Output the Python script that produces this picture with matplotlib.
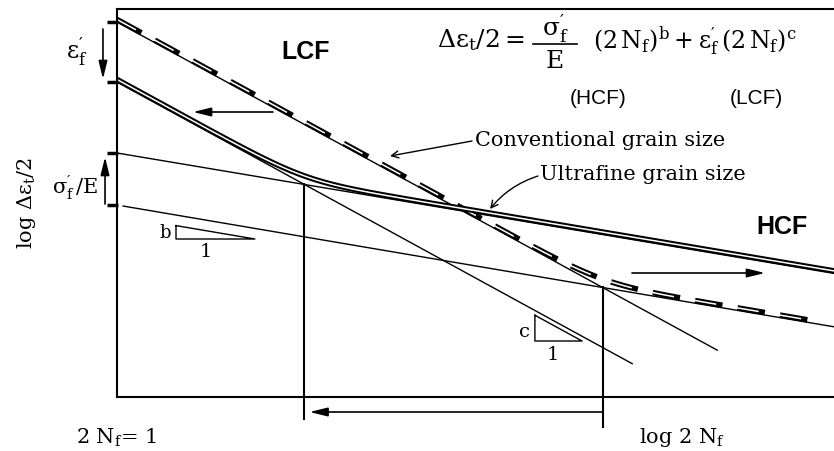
import numpy as np
import matplotlib
matplotlib.use("Agg")
import matplotlib.pyplot as plt
from matplotlib.transforms import offset_copy

plt.rcParams['mathtext.fontset'] = 'dejavuserif'
plt.rcParams['mathtext.default'] = 'regular'
plt.rcParams['lines.scale_dashes'] = False

# schematic strain-life parameters (log10 units)
# index 0 = conventional grain size, 1 = ultrafine grain size
materials = ["Conventional grain size", "Ultrafine grain size"]
log_eps_f = [0.0, -3.0]        # log eps_f'   (LCF intercept)
c_exp = [-2.8, -2.8]           # plastic exponent c
log_sig_E = [-9.15, -6.55]     # log sigma_f'/E  (HCF intercept)
b_exp = [-0.87, -0.86]         # elastic exponent b
plastic_end = [5.86, 5.03]
elastic_start = [0.06, 0.0]
elastic_end = [7.0, 7.0]
total_end = [6.87, 7.0]
drop_to = [-20.25, -19.85]

X_MAX = 7.0
Y_LIM = (-18.75, 0.65)
W, H = 834, 452


def plastic(i, x):
    return log_eps_f[i] + c_exp[i] * x


def elastic(i, x):
    return log_sig_E[i] + b_exp[i] * x


def total(i, x):
    return np.log10(10 ** elastic(i, x) + 10 ** plastic(i, x))


def transition(i):
    return (log_sig_E[i] - log_eps_f[i]) / (c_exp[i] - b_exp[i])


def fp(x, y):
    # pixel position (from top-left) -> figure fraction
    return x / W, 1 - y / H


fig = plt.figure(figsize=(W / 100, H / 100), dpi=100)
ax = fig.add_axes([117 / W, 54 / H, 717 / W, 388 / H])
ax.set_xlim(0, X_MAX)
ax.set_ylim(*Y_LIM)
ax.set_xticks([])
ax.set_yticks([])
ax.spines['right'].set_visible(False)
for s in ['left', 'top', 'bottom']:
    ax.spines[s].set_linewidth(1.5)

# thin straight lines: plastic (LCF) and elastic (HCF) parts
for i in range(2):
    xp = np.linspace(0, plastic_end[i], 50)
    ax.plot(xp, plastic(i, xp), color='k', lw=1.0)
    xe = np.linspace(elastic_start[i], elastic_end[i], 50)
    ax.plot(xe, elastic(i, xe), color='k', lw=1.0)

# total curves, drawn a little above the straight lines
up = offset_copy(ax.transData, fig=fig, x=0, y=2.5, units='dots')
xt = np.linspace(0, total_end[0], 600)
ax.plot(xt, total(0, xt), color='k', lw=4.0, ls=(0, (20, 11)),
        transform=up, dash_capstyle='butt')
ax.plot(xt, total(0, xt), color='white', lw=1.1, ls=(1.5, (17, 14)),
        transform=up, dash_capstyle='butt')
xt = np.linspace(0, total_end[1], 600)
ax.plot(xt, total(1, xt), color='k', lw=4.0, transform=up)
ax.plot(xt, total(1, xt), color='white', lw=1.1, transform=up)

# transition lives
for i in range(2):
    xs = transition(i)
    ax.plot([xs, xs], [plastic(i, xs), drop_to[i]], color='k', lw=1.5, clip_on=False)
arrow = dict(arrowstyle='-|>,head_length=0.9,head_width=0.22', color='k', lw=1.2,
             shrinkA=0, shrinkB=0, mutation_scale=12)
ax.annotate('', xy=(transition(1) + 0.05, -19.5), xytext=(transition(0), -19.5),
            arrowprops=arrow, annotation_clip=False)

# intercept marks on the strain axis
for v in log_eps_f + log_sig_E:
    ax.plot([-0.1, 0.01], [v, v], color='k', lw=2.5, clip_on=False,
            solid_capstyle='butt')

ax.annotate('', xy=(-0.137, log_eps_f[1] + 0.15), xytext=(-0.137, log_eps_f[0] - 0.35),
            arrowprops=arrow, annotation_clip=False)
ax.annotate('', xy=(-0.117, log_sig_E[1] - 0.2), xytext=(-0.117, log_sig_E[0] + 0.05),
            arrowprops=arrow, annotation_clip=False)

# shift arrows
ax.annotate('', xy=fp(193, 113), xytext=fp(273, 113), xycoords='figure fraction',
            arrowprops=arrow)
ax.annotate('', xy=fp(765, 274), xytext=fp(632, 274), xycoords='figure fraction',
            arrowprops=arrow)

# slope triangles
tri = [(0.576, -10.85, 0.77, b_exp[0]), (4.08, -15.95, 0.46, c_exp[1])]
for x0, y0, L, slope in tri:
    h = -slope * L
    ax.plot([x0, x0, x0 + L, x0], [y0 + h, y0, y0, y0 + h], color='k', lw=1.0)

serif = 'DejaVu Serif'
sans = 'Liberation Sans'
fig.text(*fp(165, 233), 'b', family=serif, fontsize=13, ha='center', va='center')
fig.text(*fp(206, 252), '1', family=serif, fontsize=14, ha='center', va='center')
fig.text(*fp(524, 332), 'c', family=serif, fontsize=14, ha='center', va='center')
fig.text(*fp(553, 355), '1', family=serif, fontsize=14, ha='center', va='center')

fig.text(*fp(306, 52), 'LCF', family=sans, weight='bold', fontsize=18,
         ha='center', va='center')
fig.text(*fp(782, 227), 'HCF', family=sans, weight='bold', fontsize=18,
         ha='center', va='center')

# equation
fig.text(*fp(437, 40), r'$\Delta\varepsilon_t/2 =$', family=serif, fontsize=18,
         ha='left', va='center')
fig.text(*fp(555, 29), r"$\sigma_f'$", family=serif, fontsize=18, ha='center', va='center')
fig.add_artist(plt.Line2D([533 / W, 577 / W], [1 - 45 / H, 1 - 45 / H], color='k', lw=1.2))
fig.text(*fp(555, 61), 'E', family=serif, fontsize=18, ha='center', va='center')
fig.text(*fp(593, 40), r"$(2\,N_f)^b + \varepsilon_f'\,(2\,N_f)^c$", family=serif,
         fontsize=17, ha='left', va='center')
fig.text(*fp(598, 99), '(HCF)', family=sans, fontsize=15, ha='center', va='center')
fig.text(*fp(756, 99), '(LCF)', family=sans, fontsize=15, ha='center', va='center')

# grain size labels
fig.text(*fp(475, 141), materials[0], family=serif, fontsize=15, ha='left', va='center')
fig.text(*fp(540, 174), materials[1], family=serif, fontsize=15, ha='left', va='center')
ax.annotate('', xy=fp(390, 157), xytext=fp(472, 142), xycoords='figure fraction',
            arrowprops=dict(arrowstyle='->,head_length=0.5,head_width=0.25', color='k',
                            lw=1.0, shrinkA=0, shrinkB=0))
ax.annotate('', xy=fp(490, 210), xytext=fp(538, 177), xycoords='figure fraction',
            arrowprops=dict(arrowstyle='->,head_length=0.5,head_width=0.25', color='k',
                            lw=1.0, shrinkA=0, shrinkB=0, connectionstyle='arc3,rad=0.15'))

# axis labels
fig.text(*fp(27, 203), r'log $\Delta\varepsilon_t/2$', family=serif, fontsize=15,
         rotation=90, ha='center', va='center')
fig.text(*fp(77, 52), r"$\varepsilon_f'$", family=serif, fontsize=17, ha='center', va='center')
fig.text(*fp(75, 188), r"$\sigma_f'\,/E$", family=serif, fontsize=15, ha='center', va='center')
fig.text(*fp(116, 438), r'2 $N_f$= 1', family=serif, fontsize=15, ha='center', va='center')
fig.text(*fp(682, 438), r'log 2 $N_f$', family=serif, fontsize=15, ha='center', va='center')

fig.savefig('out.png', dpi=100)
